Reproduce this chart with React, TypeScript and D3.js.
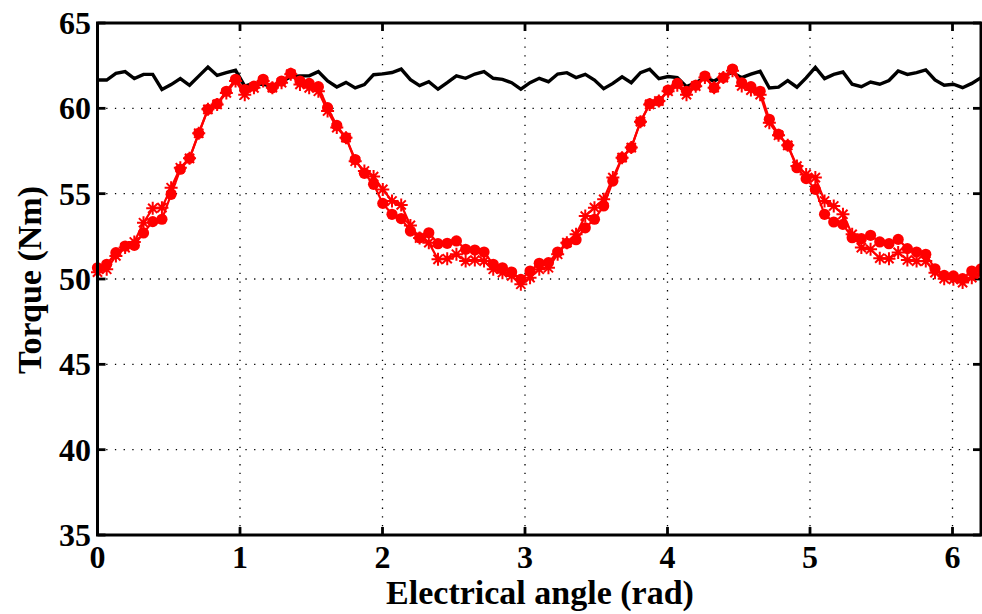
import React from "react";
import * as d3 from "d3";

const X_MAX = 6.2;
const N_STEPS = 96;

const xTicks = [0, 1, 2, 3, 4, 5, 6];
const yTicks = [35, 40, 45, 50, 55, 60, 65];

const blackSeries = [
  61.66, 61.66, 62.05, 62.15, 61.74, 61.99, 61.99, 61.11, 61.39, 61.74,
  61.35, 61.89, 62.42, 61.93, 62.09, 62.23, 61.3, 61.47, 61.4, 61.3,
  61.56, 61.85, 61.9, 61.9, 62.15, 61.6, 61.25, 61.52, 61.2, 61.39,
  61.97, 62.02, 62.1, 62.3, 61.68, 61.33, 61.56, 61.12, 61.5, 61.9,
  61.76, 62.01, 62.15, 61.76, 61.7, 61.5, 61.12, 61.5, 61.76, 61.56,
  62.01, 62.09, 61.8, 61.99, 61.66, 61.15, 61.46, 61.85, 61.5, 62.09,
  62.29, 61.74, 61.86, 61.8, 61.27, 61.5, 61.8, 61.6, 61.9, 62.1,
  61.8, 62.0, 62.17, 61.19, 61.24, 61.63, 61.24, 61.78, 62.4, 61.74,
  61.99, 62.13, 61.41, 61.27, 61.54, 61.41, 61.63, 62.19, 61.99, 62.09,
  62.25, 61.66, 61.35, 61.41, 61.21, 61.46, 61.8,
];

const circleSeries = [
  50.66, 50.86, 51.54, 51.93, 51.97, 52.7, 53.36, 53.5, 54.96, 56.43,
  57.07, 58.54, 59.94, 60.27, 61.0, 61.7, 61.1, 61.3, 61.7, 61.21,
  61.6, 62.05, 61.6, 61.46, 61.27, 60.04, 59.0, 58.28, 57.0, 56.19,
  55.55, 54.43, 53.79, 53.54, 52.81, 52.42, 52.71, 52.07, 52.09, 52.23,
  51.74, 51.7, 51.58, 50.86, 50.66, 50.41, 49.98, 50.47, 50.92, 50.96,
  51.58, 52.09, 52.3, 53.0, 53.5, 54.28, 55.74, 57.11, 57.7, 59.22,
  60.27, 60.43, 61.07, 61.46, 61.0, 61.35, 61.89, 61.21, 61.8, 62.3,
  61.5, 61.27, 61.0, 59.36, 58.48, 57.83, 56.52, 55.88, 55.25, 53.79,
  53.34, 53.2, 52.42, 52.36, 52.56, 52.17, 52.07, 52.32, 51.78, 51.58,
  51.45, 50.6, 50.21, 50.18, 50.02, 50.47, 50.6,
];

const starSeries = [
  50.4, 50.57, 51.35, 51.84, 52.17, 53.3, 54.14, 54.18, 55.35, 56.52,
  57.07, 58.54, 59.94, 60.23, 60.9, 61.6, 60.8, 61.2, 61.6, 61.21,
  61.5, 62.0, 61.4, 61.2, 61.0, 59.84, 58.87, 58.28, 56.9, 56.33,
  56.0, 55.25, 54.57, 54.34, 53.14, 52.4, 52.13, 51.15, 51.19, 51.45,
  51.05, 51.11, 51.05, 50.57, 50.37, 50.18, 49.69, 50.08, 50.57, 50.66,
  51.45, 52.13, 52.62, 53.69, 54.18, 54.67, 55.94, 57.11, 57.7, 59.22,
  60.23, 60.43, 61.0, 61.35, 60.8, 61.3, 61.8, 61.21, 61.8, 62.2,
  61.31, 61.07, 60.8, 59.16, 58.42, 57.83, 56.62, 56.13, 55.94, 54.57,
  54.28, 53.79, 52.62, 51.84, 51.74, 51.22, 51.19, 51.56, 51.11, 51.05,
  51.05, 50.37, 50.02, 49.98, 49.79, 50.08, 50.3,
];

const W = 982;
const H = 614;
const M = { left: 97.5, right: 981, top: 23, bottom: 535 };
const FONT = "'Liberation Serif', 'Times New Roman', serif";

export default function App() {
  const x = d3.scaleLinear().domain([0, X_MAX]).range([M.left, M.right]);
  const y = d3.scaleLinear().domain([35, 65]).range([M.bottom, M.top]);
  const ax = (i: number) => (i * X_MAX) / N_STEPS;

  const line = d3
    .line<number>()
    .x((_, i) => x(ax(i)))
    .y((d) => y(d));

  const starPath = (cx: number, cy: number, r: number) => {
    const a = r * Math.SQRT1_2;
    return `M${cx - r},${cy}L${cx + r},${cy}M${cx},${cy - r}L${cx},${cy + r}M${cx - a},${cy - a}L${cx + a},${cy + a}M${cx - a},${cy + a}L${cx + a},${cy - a}`;
  };

  const tickLen = 8;

  return (
    <svg
      width={W}
      height={H}
      style={{ position: "absolute", left: 0, top: 0, background: "#fff" }}
    >
      <rect x={0} y={0} width={W} height={H} fill="#fff" />
      {/* grid */}
      <g stroke="#000" strokeWidth={1.3} strokeDasharray="1.3 7.4">
        {xTicks
          .filter((t) => t > 0)
          .map((t) => (
            <line key={"gx" + t} x1={x(t)} x2={x(t)} y1={M.bottom} y2={M.top} />
          ))}
        {yTicks
          .filter((t) => t > 35 && t < 65)
          .map((t) => (
            <line key={"gy" + t} x1={M.left} x2={M.right} y1={y(t)} y2={y(t)} />
          ))}
      </g>
      {/* ticks */}
      <g stroke="#000" strokeWidth={2.8}>
        {xTicks.map((t) => (
          <g key={"tx" + t}>
            <line x1={x(t)} x2={x(t)} y1={M.bottom} y2={M.bottom - tickLen} />
            <line x1={x(t)} x2={x(t)} y1={M.top} y2={M.top + tickLen} />
          </g>
        ))}
        {yTicks.map((t) => (
          <g key={"ty" + t}>
            <line x1={M.left} x2={M.left + tickLen} y1={y(t)} y2={y(t)} />
            <line x1={M.right} x2={M.right - tickLen} y1={y(t)} y2={y(t)} />
          </g>
        ))}
      </g>
      {/* black series */}
      <path d={line(blackSeries) || ""} fill="none" stroke="#000" strokeWidth={3.4} strokeLinejoin="miter" />
      {/* star series */}
      <path d={line(starSeries) || ""} fill="none" stroke="#ff0000" strokeWidth={2.2} />
      <g stroke="#ff0000" strokeWidth={2} fill="none">
        {starSeries.map((d, i) => (
          <path key={"s" + i} d={starPath(x(ax(i)), y(d), 6.5)} />
        ))}
      </g>
      {/* circle series */}
      <path d={line(circleSeries) || ""} fill="none" stroke="#ff0000" strokeWidth={2.2} />
      <g fill="#ff0000">
        {circleSeries.map((d, i) => (
          <circle key={"c" + i} cx={x(ax(i))} cy={y(d)} r={5.6} />
        ))}
      </g>
      {/* frame */}
      <rect
        x={M.left}
        y={M.top}
        width={M.right - M.left}
        height={M.bottom - M.top}
        fill="none"
        stroke="#000"
        strokeWidth={3}
      />
      {/* tick labels */}
      <g fontFamily={FONT} fontWeight="bold" fontSize={32} fill="#000">
        {xTicks.map((t) => (
          <text key={"lx" + t} x={x(t)} y={568} textAnchor="middle">
            {t}
          </text>
        ))}
        {yTicks.map((t) => (
          <text key={"ly" + t} x={91} y={y(t) + 11} textAnchor="end">
            {t}
          </text>
        ))}
      </g>
      <text
        x={540}
        y={604}
        textAnchor="middle"
        fontFamily={FONT}
        fontWeight="bold"
        fontSize={34}
      >
        Electrical angle (rad)
      </text>
      <text
        transform={`translate(41, 280) rotate(-90)`}
        textAnchor="middle"
        fontFamily={FONT}
        fontWeight="bold"
        fontSize={34}
      >
        Torque (Nm)
      </text>
    </svg>
  );
}
